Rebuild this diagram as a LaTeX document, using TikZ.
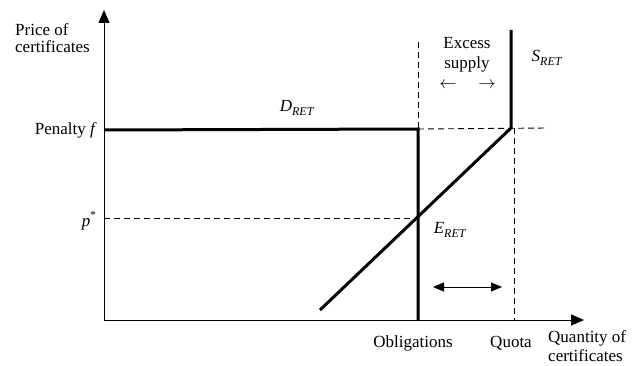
\documentclass[tikz,border=0pt]{standalone}
\usepackage{fontspec}
\setmainfont{Liberation Serif}
\usetikzlibrary{arrows.meta}
\newcommand{\subit}[2]{\textit{#1}\raisebox{-0.25em}{\fontsize{12}{14}\selectfont\textit{#2}}}
\begin{document}
\begin{tikzpicture}[x=1pt,y=-1pt,
 axis/.style={line width=1pt,-{Triangle[length=13pt,width=11pt]}},
 curve/.style={line width=3pt},
 guide/.style={line width=0.9pt,dash pattern=on 6pt off 4pt},
 dbl/.style={line width=1pt,{Triangle[length=11pt,width=9pt]}-{Triangle[length=11pt,width=9pt]}},
 lbl/.style={font=\fontsize{17}{20.5}\selectfont, inner sep=0pt}
]
\useasboundingbox (0,0) rectangle (642,366);
% key points
\coordinate (O) at (104,320);
\coordinate (ytop) at (104,10);
\coordinate (xend) at (584,320);
\coordinate (Pf) at (104,130);
\coordinate (Dc) at (418,129);
\coordinate (Db) at (418,320);
\coordinate (Dt) at (418,42);
\coordinate (Sc) at (511,128);
\coordinate (St) at (511,30);
\coordinate (Eb) at (320,310);
\coordinate (Hr) at (548,128);
\coordinate (Qb) at (514,320);
\coordinate (Qt) at (514,128);
\coordinate (Ps) at (104,218);
\coordinate (Pe) at (418,218);
\coordinate (Al) at (433,287);
\coordinate (Ar) at (502,287);
% axes
\draw[axis] (O) -- (ytop);
\draw[axis] (O) -- (xend);
% guides
\draw[guide] (Dt) -- (Dc);
\draw[guide] (Dc) -- (Hr);
\draw[guide] (Qt) -- (Qb);
\draw[guide] (Ps) -- (Pe);
% curves
\draw[curve] (Pf) -- (Dc) -- (Db);
\draw[curve, line join=miter] (St) -- (Sc) -- (Eb);
\draw[dbl] (Al) -- (Ar);
% labels
\node[lbl, font=\fontsize{17}{17}\selectfont, anchor=north west, align=left] (ylab) at (15,23) {Price of\\certificates};
\node[lbl, anchor=east] (pen) at (97,130) {Penalty \textit{f}};
\node[lbl, anchor=east] (pstar) at (96,221) {\textit{p}\raisebox{0.45em}{\fontsize{11}{12}\selectfont *}};
\node[lbl] (dret) at (297,108) {\subit{D}{RET}};
\node[lbl, align=center] (exc) at (467,55) {Excess\\supply};
\node[lbl] (la) at (448,85) {$\leftarrow$};
\node[lbl] (ra) at (487,85) {$\rightarrow$};
\node[lbl] (sret) at (547,58) {\subit{S}{RET}};
\node[lbl] (eret) at (450,230) {\subit{E}{RET}};
\node[lbl] (obl) at (413,343) {Obligations};
\node[lbl] (quo) at (511,343) {Quota};
\node[lbl, font=\fontsize{17}{19}\selectfont, anchor=north west, align=left] (xlab) at (548,330) {Quantity of\\certificates};
\end{tikzpicture}
\end{document}
